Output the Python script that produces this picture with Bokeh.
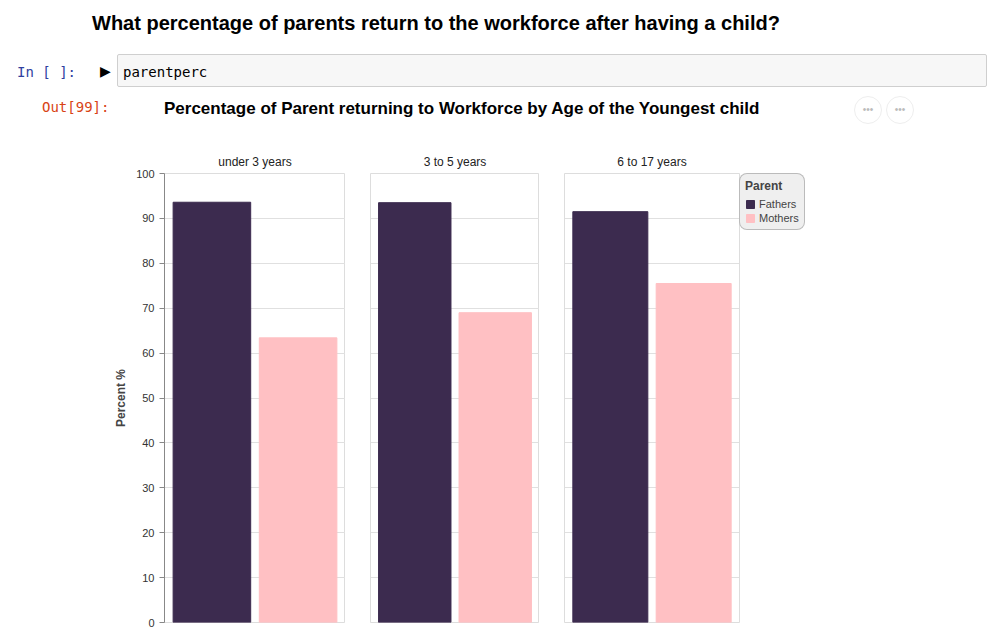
from bokeh.plotting import figure
from bokeh.models import Div, FactorRange, Legend, LegendItem, ColumnDataSource
from bokeh.layouts import column, row
from bokeh.embed import file_html
from bokeh.resources import INLINE

ages = ["under 3 years", "3 to 5 years", "6 to 17 years"]
parents = ["Fathers", "Mothers"]
fathers = [93.6, 93.5, 91.5]
mothers = [63.4, 69.0, 75.5]
colors = ["#3c2b4f", "#ffc0c3"]
yticks = [0, 10, 20, 30, 40, 50, 60, 70, 80, 90, 100]

FONT = "Liberation Sans"

header = Div(width=975, height=125, text=f"""
<div style="position:relative;width:975px;height:125px;font-family:'{FONT}';">
 <div style="position:absolute;left:87px;top:4px;font-size:20px;font-weight:bold;color:#000;">What percentage of parents return to the workforce after having a child?</div>
 <div style="position:absolute;left:12px;top:57px;font-family:'DejaVu Sans Mono';font-size:14px;color:#303f9f;">In&nbsp;[&nbsp;]:</div>
 <div style="position:absolute;left:95px;top:56px;font-size:14px;color:#000;">&#9654;</div>
 <div style="position:absolute;left:112px;top:49px;width:870px;height:33px;background:#f7f7f7;border:1px solid #cfcfcf;border-radius:2px;"></div>
 <div style="position:absolute;left:118px;top:57px;font-family:'DejaVu Sans Mono';font-size:14px;color:#000;">parentperc</div>
 <div style="position:absolute;left:37px;top:92px;font-family:'DejaVu Sans Mono';font-size:14px;color:#d84315;">Out[99]:</div>
 <div style="position:absolute;left:159px;top:92px;font-size:17px;font-weight:bold;color:#000;">Percentage of Parent returning to Workforce by Age of the Youngest child</div>
 <div style="position:absolute;left:849px;top:91px;width:28px;height:28px;border:1px solid #eee;border-radius:50%;text-align:center;line-height:26px;font-size:10px;color:#bbb;">&bull;&bull;&bull;</div>
 <div style="position:absolute;left:881px;top:91px;width:28px;height:28px;border:1px solid #eee;border-radius:50%;text-align:center;line-height:26px;font-size:10px;color:#bbb;">&bull;&bull;&bull;</div>
</div>""")

figs = []
frame_widths = [181, 169, 175]
for i, age in enumerate(ages):
    src = ColumnDataSource(dict(parent=parents, val=[fathers[i], mothers[i]], color=colors))
    f = figure(x_range=FactorRange(*parents, range_padding=0.05), y_range=(0, 100),
               frame_width=frame_widths[i], frame_height=449,
               output_backend="svg", toolbar_location=None,
               min_border_left=164 if i == 0 else 25, min_border_right=0,
               min_border_top=38, min_border_bottom=8, title=age)
    r = f.vbar(x="parent", top="val", width=0.9, color="color", source=src)
    f.title.align = "center"
    f.title.text_font = FONT
    f.title.text_font_size = "12px"
    f.title.text_font_style = "normal"
    f.title.text_color = "#222"
    f.xaxis.visible = False
    f.xgrid.visible = False
    f.ygrid.grid_line_color = "#e0e0e0"
    f.ygrid.ticker = yticks
    f.outline_line_color = "#ddd"
    f.background_fill_color = "white"
    if i == 0:
        f.yaxis.ticker = yticks
        f.yaxis.axis_label = "Percent %"
        f.yaxis.axis_label_text_font = FONT
        f.yaxis.axis_label_text_font_size = "12px"
        f.yaxis.axis_label_text_font_style = "bold"
        f.yaxis.major_label_text_font = FONT
        f.yaxis.major_label_text_font_size = "11px"
        f.yaxis.major_label_text_color = "#333"
        f.yaxis.axis_line_color = "#888"
        f.yaxis.major_tick_line_color = "#888"
        f.yaxis.minor_tick_line_color = None
        f.yaxis.major_tick_in = 0
        f.yaxis.major_tick_out = 5
    else:
        f.yaxis.visible = False
    if i == 2:
        items = [LegendItem(label=p, renderers=[r], index=j) for j, p in enumerate(parents)]
        leg = Legend(items=items, title="Parent", location="top_left",
                     title_text_font=FONT, title_text_font_size="12px",
                     title_text_font_style="bold", label_text_font=FONT,
                     label_text_font_size="11px", glyph_width=10, glyph_height=10,
                     label_height=12, spacing=2, padding=5, margin=0,
                     label_standoff=4, border_line_color="#888",
                     background_fill_color="#eeeeee", border_radius=8)
        f.add_layout(leg, "right")
        f.min_border_right = 130
    figs.append(f)

p = column(header, row(*figs))
open("out.html", "w").write(file_html(p, INLINE))
